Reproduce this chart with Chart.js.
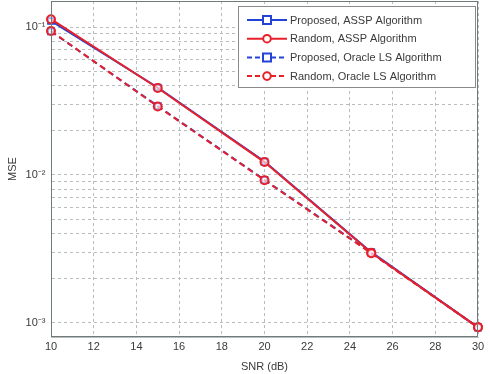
<!DOCTYPE html>
<html>
<head>
<meta charset="utf-8">
<script src="https://cdn.jsdelivr.net/npm/chart.js@4.4.0/dist/chart.umd.min.js"></script>
<style>
  html, body { margin: 0; padding: 0; background: #fff; }
  #wrap { width: 490px; height: 374px; }
</style>
</head>
<body>
<div id="wrap"><canvas id="myChart" width="490" height="374"></canvas></div>
<script>
// Dados
const snr = [10, 15, 20, 25, 30];
const proposedAssp = [0.110, 0.0390, 0.01230, 0.00300, 0.00093];
const randomAssp = [0.113, 0.0387, 0.01220, 0.00297, 0.00093];
const proposedOracle = [0.0935, 0.0292, 0.00925, 0.00297, 0.00093];
const randomOracle = [0.0940, 0.0290, 0.00920, 0.00295, 0.00093];
const seriesNames = [
    'Proposed, ASSP Algorithm',
    'Random, ASSP Algorithm',
    'Proposed, Oracle LS Algorithm',
    'Random, Oracle LS Algorithm'
];
const yDecades = [-3, -2, -1];
const yMin = 0.0008;
const yMax = 0.15;

const blue = '#2343d6';
const red = '#e8202a';
const textColor = '#3a3a3a';
const gridColor = '#b8bebe';
const fontFamily = 'Liberation Sans, Arial, sans-serif';

function toPoints(values) {
    return snr.map((x, i) => ({ x: x, y: values[i] }));
}

const supers = { '-': '⁻', '1': '¹', '2': '²', '3': '³' };

// Legenda desenhada dentro do gráfico
const legendPlugin = {
    id: 'boxLegend',
    afterDatasetsDraw(chart) {
        const c = chart.ctx;
        const x0 = 238, y0 = 6, w = 237, h = 81;
        c.save();
        c.fillStyle = '#fff';
        c.fillRect(x0, y0, w, h);
        c.strokeStyle = '#8a8a8a';
        c.lineWidth = 1;
        c.strokeRect(x0 + 0.5, y0 + 0.5, w, h);
        const styles = [
            { color: blue, dash: [], marker: 'rect' },
            { color: red, dash: [], marker: 'circle' },
            { color: blue, dash: [5, 3], marker: 'rect' },
            { color: red, dash: [5, 3], marker: 'circle' }
        ];
        c.font = '11px ' + fontFamily;
        c.textBaseline = 'middle';
        styles.forEach((s, i) => {
            const y = 20 + i * 18.7;
            c.strokeStyle = s.color;
            c.lineWidth = 2;
            c.setLineDash(s.dash);
            c.beginPath();
            c.moveTo(247, y);
            c.lineTo(287, y);
            c.stroke();
            c.setLineDash([]);
            c.fillStyle = '#fff';
            c.beginPath();
            if (s.marker === 'rect') {
                c.rect(263, y - 4, 8, 8);
            } else {
                c.arc(267, y, 3.8, 0, Math.PI * 2);
            }
            c.fill();
            c.stroke();
            c.fillStyle = textColor;
            c.fillText(seriesNames[i], 290, y + 0.5);
        });
        c.restore();
    }
};

// Moldura da área do gráfico
const framePlugin = {
    id: 'frame',
    afterDatasetsDraw(chart) {
        const a = chart.chartArea;
        const c = chart.ctx;
        c.save();
        c.strokeStyle = '#6f7a7a';
        c.lineWidth = 1;
        c.strokeRect(Math.round(a.left) + 0.5, Math.round(a.top) + 0.5,
            Math.round(a.right - a.left) - 1, Math.round(a.bottom - a.top) - 1);
        c.restore();
    }
};

function makeDataset(i, values, color, dashed, marker, order) {
    return {
        label: seriesNames[i],
        data: toPoints(values),
        borderColor: color,
        backgroundColor: '#fff',
        borderWidth: 2,
        borderDash: dashed ? [6, 4] : [],
        pointStyle: marker,
        pointRadius: 4,
        pointBorderWidth: 2,
        pointBorderColor: color,
        pointBackgroundColor: 'rgba(255,255,255,0.6)',
        tension: 0,
        clip: 6,
        order: order
    };
}

const ctx = document.getElementById('myChart').getContext('2d');
const myChart = new Chart(ctx, {
    type: 'line',
    data: {
        datasets: [
            makeDataset(0, proposedAssp, blue, false, 'rect', 3),
            makeDataset(1, randomAssp, red, false, 'circle', 1),
            makeDataset(2, proposedOracle, blue, true, 'rect', 2),
            makeDataset(3, randomOracle, red, true, 'circle', 0)
        ]
    },
    options: {
        responsive: false,
        animation: false,
        layout: { autoPadding: false, padding: { top: 1, right: 12, left: 0, bottom: 0 } },
        plugins: {
            legend: { display: false },
            tooltip: { enabled: false }
        },
        scales: {
            x: {
                type: 'linear',
                min: 10,
                max: 30,
                ticks: {
                    stepSize: 2,
                    color: textColor,
                    font: { family: fontFamily, size: 11 },
                    padding: 3,
                    maxRotation: 0
                },
                grid: {
                    color: gridColor,
                    lineWidth: 1,
                    drawTicks: false
                },
                border: { display: true, color: gridColor, width: 1, dash: [3, 3] },
                title: {
                    display: true,
                    text: 'SNR (dB)',
                    color: textColor,
                    font: { family: fontFamily, size: 11 },
                    padding: { top: 1, bottom: 0 }
                },
                afterFit(scale) {
                    scale.height = 37;
                }
            },
            y: {
                type: 'logarithmic',
                min: yMin,
                max: yMax,
                afterBuildTicks(scale) {
                    const t = [{ value: yMin }];
                    yDecades.forEach(d => {
                        for (let m = 1; m <= 9; m++) {
                            const v = m * Math.pow(10, d);
                            if (v > yMin * 1.05 && v < yMax * 0.99) t.push({ value: v });
                        }
                    });
                    t.push({ value: yMax });
                    scale.ticks = t;
                },
                ticks: {
                    autoSkip: false,
                    color: textColor,
                    // extremos sem rótulo: fonte mínima para não reservar espaço
                    font: (c) => ({
                        family: fontFamily,
                        size: (c.tick && (c.tick.value >= yMax * 0.99 || c.tick.value <= yMin * 1.01)) ? 1 : 11
                    }),
                    padding: 0,
                    callback(value) {
                        const e = Math.log10(value);
                        if (Math.abs(e - Math.round(e)) < 1e-6) {
                            const s = String(Math.round(e)).split('').map(ch => supers[ch]).join('');
                            return '10' + s + '\u2002';
                        }
                        return '';
                    }
                },
                grid: {
                    color: gridColor,
                    lineWidth: 1,
                    drawTicks: false
                },
                border: { display: true, color: gridColor, width: 1, dash: [3, 3] },
                title: {
                    display: true,
                    text: 'MSE',
                    color: textColor,
                    font: { family: fontFamily, size: 11 },
                    padding: { top: 6, bottom: 0 }
                },
                afterFit(scale) {
                    scale.width = 51;
                    scale.paddingTop = 0;
                }
            }
        }
    },
    plugins: [framePlugin, legendPlugin]
});
</script>
</body>
</html>
